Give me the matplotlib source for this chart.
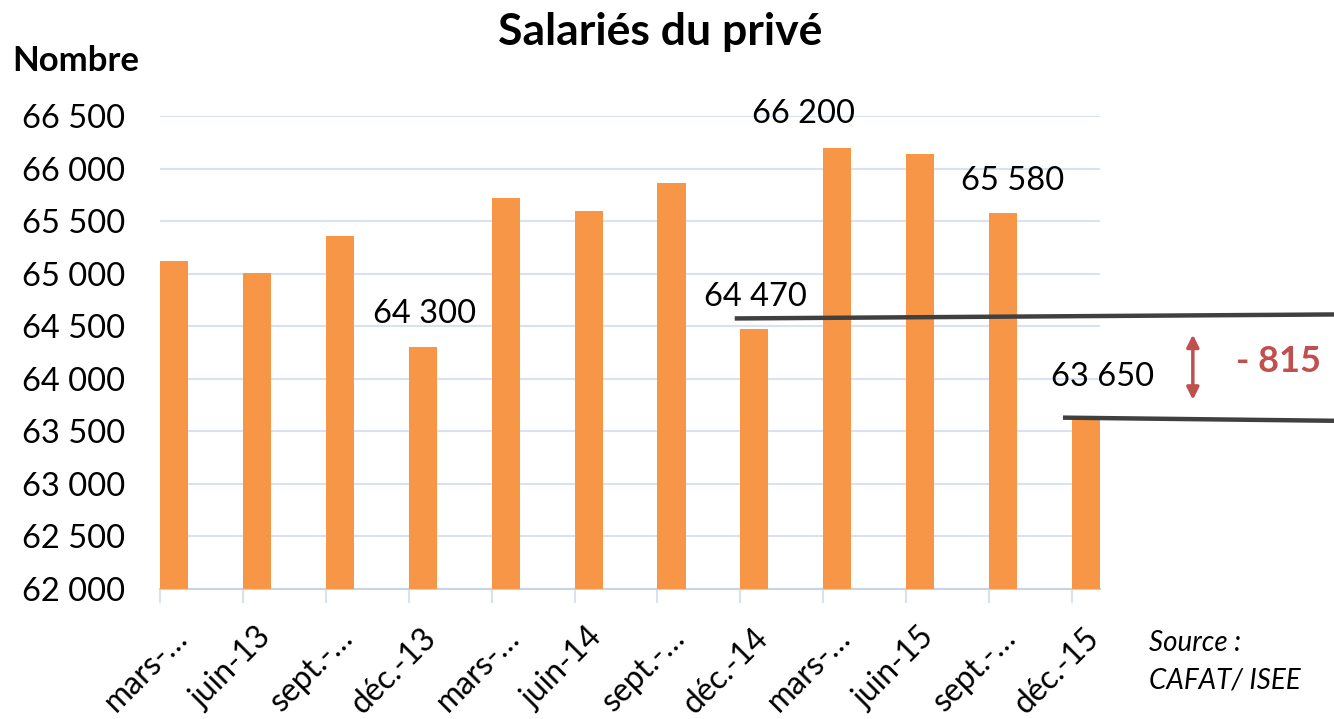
import matplotlib.pyplot as plt
import numpy as np

plt.rcParams['font.family'] = ['Lato', 'DejaVu Sans']

categories = ['mars-…', 'juin-13', 'sept.-…', 'déc.-13', 'mars-…', 'juin-14',
              'sept.-…', 'déc.-14', 'mars-…', 'juin-15', 'sept.-…', 'déc.-15']
values = [65120, 65010, 65360, 64300, 65720, 65600,
          65860, 64470, 66200, 66140, 65580, 63650]
yticks = [62000, 62500, 63000, 63500, 64000, 64500, 65000, 65500, 66000, 66500]
ytick_labels = ['62 000', '62 500', '63 000', '63 500', '64 000',
                '64 500', '65 000', '65 500', '66 000', '66 500']
# labelled bars: index -> (text, offset in points)
bar_labels = {3: ('64 300', (1, 24)), 7: ('64 470', (1, 23)), 8: ('66 200', (-24, 24)),
              10: ('65 580', (7, 23)), 11: ('63 650', (12, 28))}
orange = '#f79646'
red = '#c0504d'

fig = plt.figure(figsize=(13.34, 7.19), dpi=100)
ax = fig.add_axes([0.12, 0.1808, 0.7046, 0.6579])

x = np.arange(len(categories))
bw = 0.34
ax.bar(x, values, width=bw, align='edge', color=orange, zorder=3)

ax.set_yticks(yticks)
ax.set_yticklabels(ytick_labels, fontsize=23.5)
ax.grid(axis='y', color='#d9e2f0', linewidth=1.5, zorder=0)
ax.tick_params(axis='y', length=0, pad=25)

ax.set_xticks(x, minor=True)
ax.set_xticks(x + 0.15)
ax.set_xticklabels(categories, fontsize=23, rotation=45, ha='right', rotation_mode='anchor')
ax.tick_params(axis='x', which='major', length=0, pad=24)
ax.tick_params(axis='x', which='minor', length=10, color='#d9e2f0', width=1.5)

ax.set_ylim(62000, 66500)
ax.set_xlim(0, 11.34)

for s in ['top', 'right', 'left']:
    ax.spines[s].set_visible(False)
ax.spines['bottom'].set_color('#c8d3e6')
ax.spines['bottom'].set_linewidth(1.5)

for i, (txt, off) in bar_labels.items():
    ax.annotate(txt, (x[i] + bw / 2, values[i]), xytext=off, textcoords='offset points',
                ha='center', va='center', fontsize=23.5, annotation_clip=False)

# comparison lines dec-14 vs dec-15
ax.plot([6.96, 14.2], [64574, 64612], color='#404040', lw=3.2, clip_on=False, zorder=5)
ax.plot([10.92, 14.2], [63630, 63600], color='#404040', lw=3.2, clip_on=False, zorder=5)
ax.annotate('', xy=(12.46, 63800), xytext=(12.46, 64420), annotation_clip=False,
            arrowprops=dict(arrowstyle='<|-|>', color=red, lw=2.5, mutation_scale=18,
                            shrinkA=0, shrinkB=0))
ax.text(12.98, 64160, '- 815', color=red, fontsize=26, fontweight='bold',
        ha='left', va='center', clip_on=False)

fig.text(0.495, 0.955, 'Salariés du privé', ha='center', va='center',
         fontsize=32, fontweight='bold')
fig.text(0.009, 0.915, 'Nombre', ha='left', va='center', fontsize=25, fontweight='bold')
fig.text(0.861, 0.08, 'Source :\nCAFAT/ ISEE', ha='left', va='center',
         fontsize=20, style='italic', linespacing=1.55)

fig.savefig('out.png', dpi=100)
